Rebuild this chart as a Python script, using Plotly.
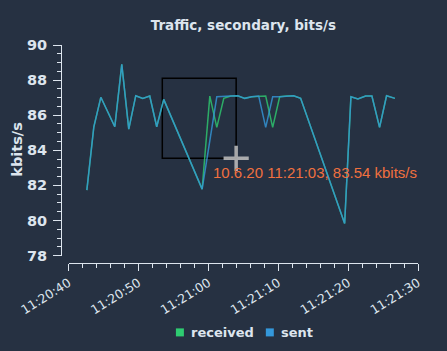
import plotly.graph_objects as go

# ---------------- data ----------------
sent_time = [
    "2020-06-10 11:20:42.6", "2020-06-10 11:20:43.6", "2020-06-10 11:20:44.6",
    "2020-06-10 11:20:46.6", "2020-06-10 11:20:47.6", "2020-06-10 11:20:48.6",
    "2020-06-10 11:20:49.6", "2020-06-10 11:20:50.6", "2020-06-10 11:20:51.6",
    "2020-06-10 11:20:52.6", "2020-06-10 11:20:53.6", "2020-06-10 11:20:59.1",
    "2020-06-10 11:21:01.2", "2020-06-10 11:21:02.2", "2020-06-10 11:21:03.2",
    "2020-06-10 11:21:04.2", "2020-06-10 11:21:05.2", "2020-06-10 11:21:06.2",
    "2020-06-10 11:21:07.2", "2020-06-10 11:21:08.2", "2020-06-10 11:21:09.2",
    "2020-06-10 11:21:10.2", "2020-06-10 11:21:11.2", "2020-06-10 11:21:12.2",
    "2020-06-10 11:21:13.2", "2020-06-10 11:21:19.5", "2020-06-10 11:21:20.4",
    "2020-06-10 11:21:21.4", "2020-06-10 11:21:22.5", "2020-06-10 11:21:23.4",
    "2020-06-10 11:21:24.5", "2020-06-10 11:21:25.5", "2020-06-10 11:21:26.7",
]
sent_kbits = [
    81.73, 85.34, 87.02, 85.34, 88.90, 85.21, 87.11, 86.96, 87.09, 85.34, 86.90,
    81.79, 87.05, 87.05, 87.09, 87.11, 86.96, 87.05, 87.09, 85.31, 87.05, 87.05,
    87.09, 87.11, 86.96, 79.83, 87.05, 86.92, 87.09, 87.09, 85.31, 87.11, 86.96,
]

received_time = [
    "2020-06-10 11:20:42.6", "2020-06-10 11:20:43.6", "2020-06-10 11:20:44.6",
    "2020-06-10 11:20:46.6", "2020-06-10 11:20:47.6", "2020-06-10 11:20:48.6",
    "2020-06-10 11:20:49.6", "2020-06-10 11:20:50.6", "2020-06-10 11:20:51.6",
    "2020-06-10 11:20:52.6", "2020-06-10 11:20:53.6", "2020-06-10 11:20:59.1",
    "2020-06-10 11:21:00.2", "2020-06-10 11:21:01.2", "2020-06-10 11:21:02.2",
    "2020-06-10 11:21:03.2", "2020-06-10 11:21:04.2", "2020-06-10 11:21:05.2",
    "2020-06-10 11:21:06.2", "2020-06-10 11:21:07.2", "2020-06-10 11:21:08.2",
    "2020-06-10 11:21:09.2", "2020-06-10 11:21:10.2", "2020-06-10 11:21:11.2",
    "2020-06-10 11:21:12.2", "2020-06-10 11:21:13.2", "2020-06-10 11:21:19.5",
    "2020-06-10 11:21:20.4", "2020-06-10 11:21:21.4", "2020-06-10 11:21:22.5",
    "2020-06-10 11:21:23.4", "2020-06-10 11:21:24.5", "2020-06-10 11:21:25.5",
    "2020-06-10 11:21:26.7",
]
received_kbits = [
    81.73, 85.34, 87.02, 85.34, 88.90, 85.21, 87.11, 86.96, 87.09, 85.34, 86.90,
    81.79, 87.09, 85.31, 86.96, 87.09, 87.11, 86.96, 87.05, 87.09, 87.09, 85.31,
    87.05, 87.09, 87.11, 86.96, 79.83, 87.05, 86.92, 87.09, 87.09, 85.31, 87.11,
    86.96,
]

series_names = ["received", "sent"]
series_colors = ["#2ecc71", "#3498db"]
line_colors = ["rgba(46,204,113,0.8)", "rgba(52,152,219,0.8)"]

x_range = ["2020-06-10 11:20:40", "2020-06-10 11:21:30"]
y_range = [78, 90]

selection_start = ("2020-06-10 11:20:53.4", 88.1)
cursor_time = "2020-06-10 11:21:03.97"
cursor_value = 83.54
cursor_label = "10.6.20 11:21:03, 83.54 kbits/s"

title_text = "Traffic, secondary, bits/s"
y_title = "kbits/s"

# ---------------- style / layout ----------------
W, H = 447, 351
BG = "#263142"
TXT = "#dde5ee"
FONT = "DejaVu Sans"

PL, PR, PT, PB = 61.0, 418.3, 45.0, 262.7   # paper area in pixels


def px(x):
    return (x - PL) / (PR - PL)


def py(y):
    return (PB - y) / (PB - PT)


fig = go.Figure()
fig.add_trace(go.Scatter(x=received_time, y=received_kbits, mode="lines",
                         name=series_names[0], showlegend=False,
                         line=dict(color=line_colors[0], width=1.5)))
fig.add_trace(go.Scatter(x=sent_time, y=sent_kbits, mode="lines",
                         name=series_names[1], showlegend=False,
                         line=dict(color=line_colors[1], width=1.5)))
# cursor crosshair
fig.add_trace(go.Scatter(x=[cursor_time], y=[cursor_value], mode="markers",
                         showlegend=False, hoverinfo="skip",
                         marker=dict(symbol="cross-thin", size=18,
                                     color="rgba(185,185,185,0.9)",
                                     line=dict(width=3.5, color="rgba(185,185,185,0.9)"))))

shapes = [
    dict(type="rect", xref="x", yref="y", layer="below",
         x0=selection_start[0], y0=cursor_value, x1=cursor_time, y1=selection_start[1],
         line=dict(color="#000000", width=1.5), fillcolor="rgba(0,0,0,0)"),
]
annotations = [
    dict(xref="x", yref="y", x=cursor_time, y=cursor_value, text=cursor_label,
         showarrow=False, xanchor="left", yanchor="middle", xshift=-25, yshift=-14.5,
         font=dict(family="Liberation Sans", size=15, color="#f0703f")),
    dict(xref="paper", yref="paper", x=px(17.5), y=py(150), text=y_title,
         textangle=-90, showarrow=False, xanchor="center", yanchor="middle",
         font=dict(family=FONT, size=14.5, color=TXT, weight="bold")),
]

# legend (squares + labels)
legend_sq_x = [176, 266]
legend_tx_x = [189.5, 279]
for i in range(2):
    shapes.append(dict(type="rect", xref="paper", yref="paper",
                       x0=px(legend_sq_x[i]), x1=px(legend_sq_x[i] + 8),
                       y0=py(336), y1=py(328),
                       line=dict(width=0), fillcolor=series_colors[i]))
    annotations.append(dict(xref="paper", yref="paper", x=px(legend_tx_x[i]), y=py(332),
                            text=series_names[i], showarrow=False,
                            xanchor="left", yanchor="middle",
                            font=dict(family=FONT, size=13, color=TXT, weight="bold")))

fig.update_layout(
    template="none",
    width=W, height=H,
    margin=dict(l=PL, r=W - PR, t=PT, b=H - PB, pad=0, autoexpand=False),
    paper_bgcolor=BG, plot_bgcolor=BG,
    showlegend=False,
    title=dict(text=title_text, x=px(243.5), xref="paper", xanchor="center",
               y=1 - 25 / H, yref="container", yanchor="middle",
               font=dict(family=FONT, size=13.5, color=TXT, weight="bold")),
    xaxis=dict(type="date", range=x_range, domain=[px(68.7), 1],
               anchor="free", position=0, automargin=False,
               showline=True, linecolor=TXT, linewidth=1,
               showgrid=False, zeroline=False,
               ticks="outside", ticklen=7, tickwidth=1, tickcolor=TXT,
               tick0="2020-06-10 11:20:40", dtick=10000, tickformat="%H:%M:%S",
               tickangle=-32,
               tickfont=dict(family=FONT, size=12.5, color=TXT),
               minor=dict(dtick=2000, ticks="outside", ticklen=3.5, tickcolor=TXT,
                          tickwidth=1, showgrid=False)),
    yaxis=dict(range=y_range, domain=[py(255.3), 1],
               anchor="free", position=0, automargin=False,
               showline=True, linecolor=TXT, linewidth=1,
               showgrid=False, zeroline=False,
               ticks="outside", ticklen=8, tickwidth=1, tickcolor=TXT,
               tick0=78, dtick=2, ticklabelstandoff=3,
               tickfont=dict(family=FONT, size=14.5, color=TXT, weight="bold"),
               minor=dict(dtick=0.5, ticks="outside", ticklen=4, tickcolor=TXT,
                          tickwidth=1, showgrid=False)),
    shapes=shapes,
    annotations=annotations,
)

fig.write_html("out.html", config={"displayModeBar": False})
